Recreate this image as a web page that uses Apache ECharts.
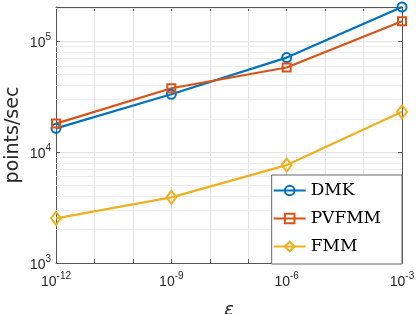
<!DOCTYPE html>
<html>
<head>
<meta charset="utf-8">
<script src="https://cdn.jsdelivr.net/npm/echarts@6/dist/echarts.min.js"></script>
<style>html,body{margin:0;padding:0;background:#fff;}#c{width:416px;height:314px;}</style>
</head>
<body>
<div id="c"></div>
<script>
// epsilon values (x) and throughput values (y, points/sec)
var eps = [1e-12, 1e-9, 1e-6, 1e-3];
var dmk = [16400, 33300, 71300, 204000];
var pvfmm = [18100, 37700, 58000, 152000];
var fmm = [2530, 3910, 7640, 23100];
var seriesNames = ['DMK', 'PVFMM', 'FMM'];
var xTickExps = [-12, -9, -6, -3];
var yMin = 1000, yMax = 204000;
var yMinorGrid = [2000,3000,4000,5000,6000,7000,8000,9000,20000,30000,40000,50000,60000,70000,80000,90000,200000];

var colors = ['#0072BD', '#D95319', '#EDB120'];
var txt = '#262626';
function pairs(vals){ return eps.map(function(e,i){ return [Math.log10(e), vals[i]]; }); }
var rich = {
  b: {fontSize: 14, fontFamily: 'Liberation Sans', color: txt, padding: [4,0,0,0], verticalAlign: 'bottom'},
  s: {fontSize: 10, fontFamily: 'Liberation Sans', color: txt, verticalAlign: 'top'}
};
function xFmt(v){
  var e = Math.round(v);
  if (Math.abs(v - e) > 1e-6 || xTickExps.indexOf(e) < 0) return '';
  return '{b|10}{s|' + e + '}';
}
function yFmt(v){
  var l = Math.log10(v), e = Math.round(l);
  if (Math.abs(l - e) > 1e-6) return '';
  return '{b|10}{s|' + e + '}';
}
var axisLineStyle = {color: '#555', width: 1};
var gridMajor = {color: '#e2e2e2', width: 1};

var chart = echarts.init(document.getElementById('c'), null, {renderer: 'canvas'});
var symbols = ['circle', 'rect', 'diamond'];
var sizes = [9, 8, [10, 13]];
var datas = [dmk, pvfmm, fmm];
var series = seriesNames.map(function(n, i){
  var s = {
    name: n, type: 'line', data: pairs(datas[i]),
    symbol: symbols[i], symbolSize: sizes[i],
    lineStyle: {color: colors[i], width: 2.2},
    itemStyle: {color: 'rgba(255,255,255,0)', borderColor: colors[i], borderWidth: 2},
    emphasis: {disabled: true}, z: 3
  };
  return s;
});
series[0].markLine = {
  silent: true, symbol: 'none', z: 1, animation: false,
  label: {show: false},
  lineStyle: {color: '#ececec', width: 1, type: 'solid'},
  emphasis: {disabled: true},
  data: yMinorGrid.map(function(v){ return {yAxis: v}; })
};

chart.setOption({
  animation: false,
  grid: {left: 56, right: 14, top: 7, bottom: 51, containLabel: false, outerBoundsMode: 'none'},
  xAxis: [{
    type: 'value', min: -12, max: -3, interval: 1,
    name: 'ε', nameLocation: 'middle', nameGap: 38, nameMoveOverlap: false,
    nameTextStyle: {fontSize: 18, fontStyle: 'italic', fontFamily: 'DejaVu Sans', color: txt},
    axisLine: {show: true, lineStyle: axisLineStyle},
    axisTick: {show: true, inside: true, length: 4, lineStyle: axisLineStyle},
    axisLabel: {formatter: xFmt, rich: rich, margin: 8, showMinLabel: true, showMaxLabel: true},
    splitLine: {show: true, lineStyle: gridMajor}
  }, {
    type: 'value', min: -12, max: -3, interval: 1, position: 'top',
    axisLine: {show: true, lineStyle: axisLineStyle},
    axisTick: {show: true, inside: true, length: 4, lineStyle: axisLineStyle},
    axisLabel: {show: false}, splitLine: {show: false}
  }],
  yAxis: [{
    type: 'log', logBase: 10, min: yMin, max: yMax,
    name: 'points/sec', nameLocation: 'middle', nameGap: 33, nameMoveOverlap: false,
    nameTextStyle: {fontSize: 19, fontFamily: 'DejaVu Sans', color: txt},
    axisLine: {show: true, lineStyle: axisLineStyle},
    axisTick: {show: true, inside: true, length: 4, lineStyle: axisLineStyle},
    axisLabel: {formatter: yFmt, rich: rich, margin: 5, showMinLabel: true, showMaxLabel: false},
    splitLine: {show: true, lineStyle: gridMajor}
  }, {
    type: 'log', logBase: 10, min: yMin, max: yMax, position: 'right',
    axisLine: {show: true, lineStyle: axisLineStyle},
    axisTick: {show: true, inside: true, length: 4, lineStyle: axisLineStyle},
    axisLabel: {show: false}, splitLine: {show: false}
  }],
  legend: {
    data: seriesNames, orient: 'vertical', right: 14, top: 175,
    padding: [7, 21, 9, 1], itemGap: 11, itemWidth: 32, itemHeight: 12,
    backgroundColor: '#fff', borderColor: '#666', borderWidth: 1, borderRadius: 0,
    selectedMode: false,
    textStyle: {fontFamily: 'DejaVu Serif', fontSize: 17, color: '#000', lineHeight: 14}
  },
  series: series
});
</script>
</body>
</html>
